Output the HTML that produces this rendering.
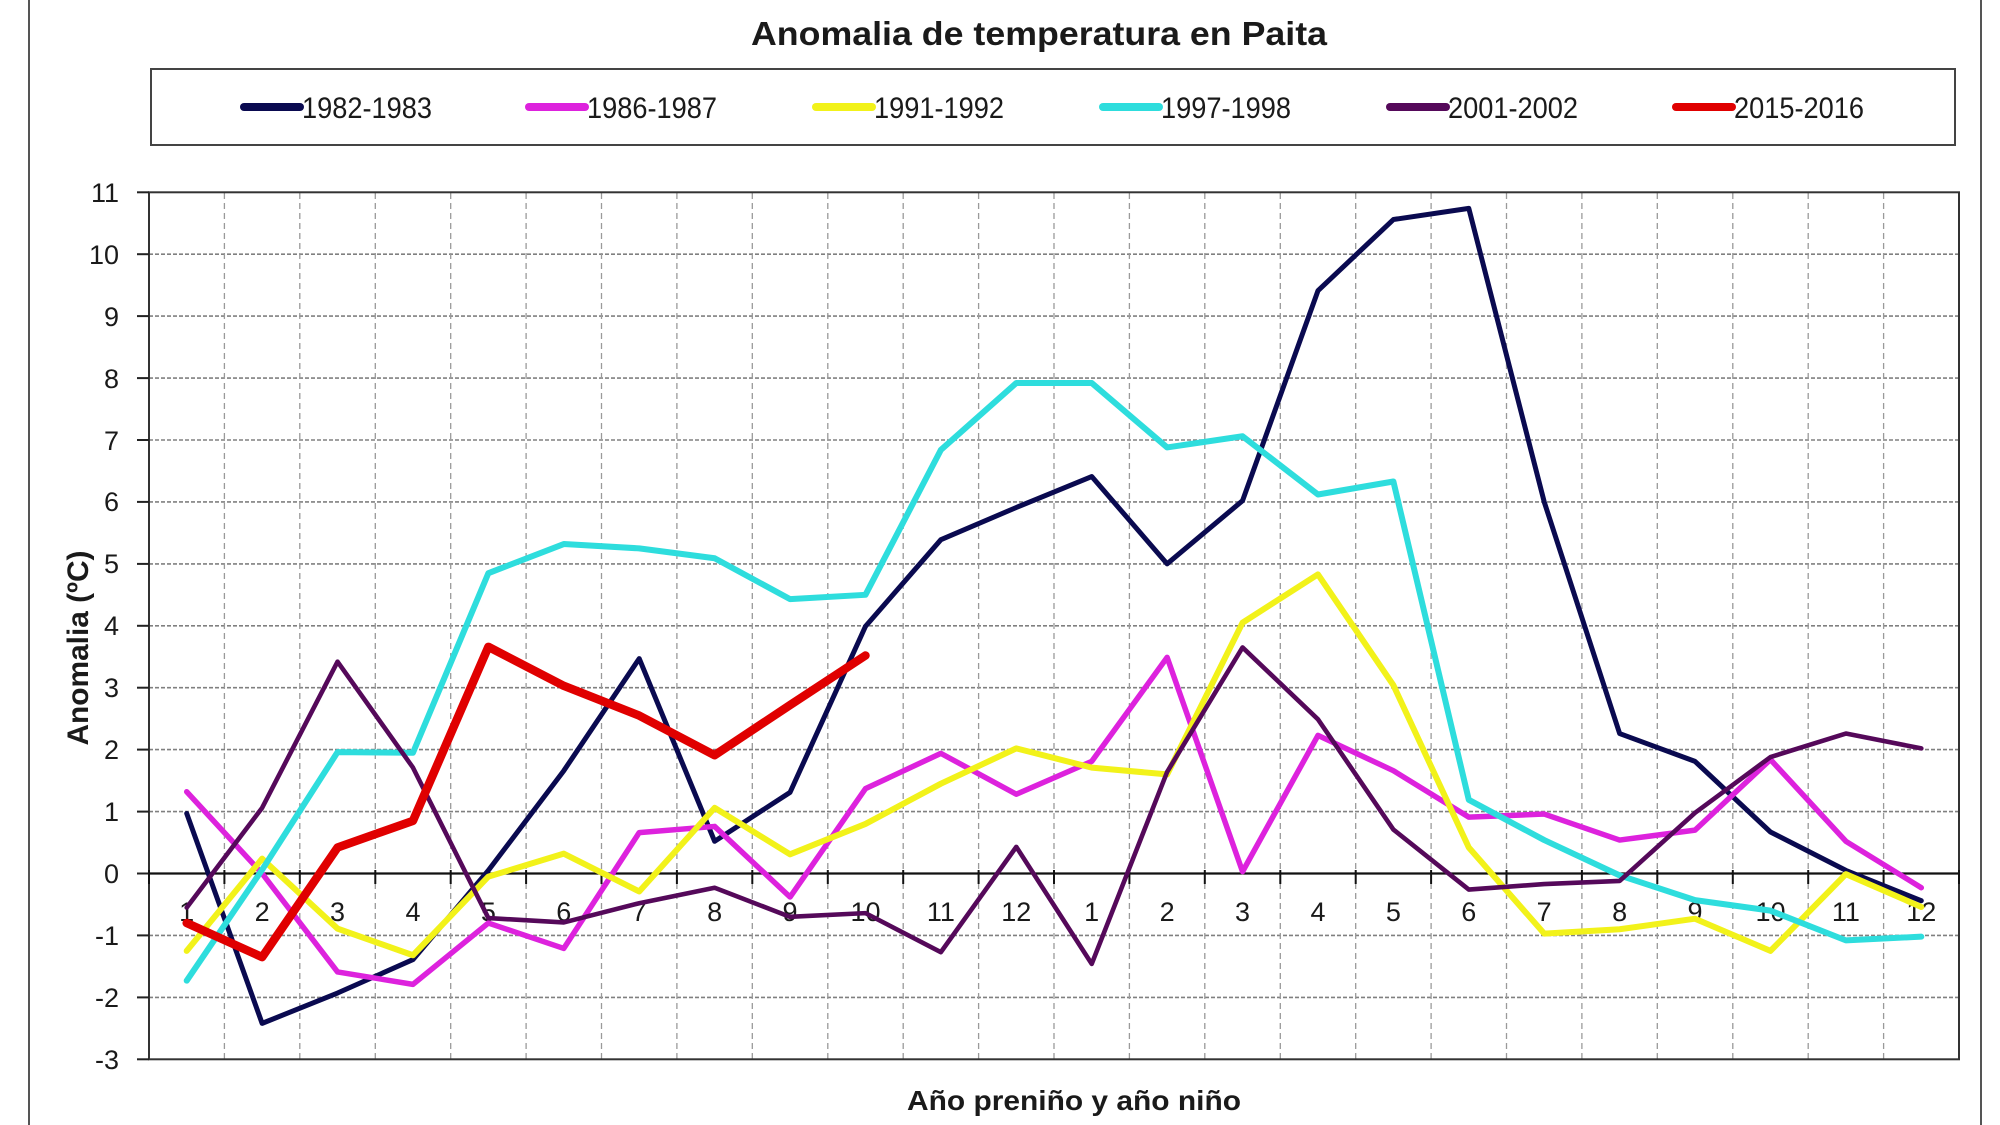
<!DOCTYPE html>
<html>
<head>
<meta charset="utf-8">
<style>
html,body{margin:0;padding:0;background:#fff;}
svg{display:block;}
text{font-family:"Liberation Sans",Arial,sans-serif;fill:#1a1a1a;}
</style>
</head>
<body>
<svg width="2000" height="1125" viewBox="0 0 2000 1125" xmlns="http://www.w3.org/2000/svg">
<rect x="0" y="0" width="2000" height="1125" fill="#fff"/>
<line x1="29" y1="0" x2="29" y2="1125" stroke="#555" stroke-width="2"/>
<line x1="1981" y1="0" x2="1981" y2="1125" stroke="#555" stroke-width="2"/>

<text x="1039" y="45" font-size="33" font-weight="bold" text-anchor="middle" textLength="576" lengthAdjust="spacingAndGlyphs">Anomalia de temperatura en Paita</text>

<rect x="151" y="69" width="1804" height="76" fill="#fff" stroke="#444" stroke-width="2"/>
<g stroke-width="8" stroke-linecap="round">
<line x1="244" y1="107" x2="300" y2="107" stroke="#0a0a50"/>
<line x1="529" y1="107" x2="585" y2="107" stroke="#dd22dd"/>
<line x1="816" y1="107" x2="872" y2="107" stroke="#f2f21a"/>
<line x1="1103" y1="107" x2="1159" y2="107" stroke="#2edddd"/>
<line x1="1390" y1="107" x2="1446" y2="107" stroke="#55095a"/>
<line x1="1676" y1="107" x2="1732" y2="107" stroke="#e00000"/>
</g>
<g font-size="30">
<text x="302" y="118" textLength="130" lengthAdjust="spacingAndGlyphs">1982-1983</text>
<text x="587" y="118" textLength="130" lengthAdjust="spacingAndGlyphs">1986-1987</text>
<text x="874" y="118" textLength="130" lengthAdjust="spacingAndGlyphs">1991-1992</text>
<text x="1161" y="118" textLength="130" lengthAdjust="spacingAndGlyphs">1997-1998</text>
<text x="1448" y="118" textLength="130" lengthAdjust="spacingAndGlyphs">2001-2002</text>
<text x="1734" y="118" textLength="130" lengthAdjust="spacingAndGlyphs">2015-2016</text>
</g>

<g stroke="#808080" stroke-width="1.6" stroke-dasharray="4 2">
<line x1="149" y1="254.2" x2="1959" y2="254.2"/>
<line x1="149" y1="316.1" x2="1959" y2="316.1"/>
<line x1="149" y1="378.1" x2="1959" y2="378.1"/>
<line x1="149" y1="440.0" x2="1959" y2="440.0"/>
<line x1="149" y1="501.9" x2="1959" y2="501.9"/>
<line x1="149" y1="563.9" x2="1959" y2="563.9"/>
<line x1="149" y1="625.8" x2="1959" y2="625.8"/>
<line x1="149" y1="687.7" x2="1959" y2="687.7"/>
<line x1="149" y1="749.6" x2="1959" y2="749.6"/>
<line x1="149" y1="811.6" x2="1959" y2="811.6"/>
<line x1="149" y1="935.4" x2="1959" y2="935.4"/>
<line x1="149" y1="997.4" x2="1959" y2="997.4"/>
</g>
<g stroke="#9a9a9a" stroke-width="1.3" stroke-dasharray="6 4">
<line x1="224.4" y1="193" x2="224.4" y2="1059"/>
<line x1="299.8" y1="193" x2="299.8" y2="1059"/>
<line x1="375.3" y1="193" x2="375.3" y2="1059"/>
<line x1="450.7" y1="193" x2="450.7" y2="1059"/>
<line x1="526.1" y1="193" x2="526.1" y2="1059"/>
<line x1="601.5" y1="193" x2="601.5" y2="1059"/>
<line x1="676.9" y1="193" x2="676.9" y2="1059"/>
<line x1="752.3" y1="193" x2="752.3" y2="1059"/>
<line x1="827.8" y1="193" x2="827.8" y2="1059"/>
<line x1="903.2" y1="193" x2="903.2" y2="1059"/>
<line x1="978.6" y1="193" x2="978.6" y2="1059"/>
<line x1="1054.0" y1="193" x2="1054.0" y2="1059"/>
<line x1="1129.4" y1="193" x2="1129.4" y2="1059"/>
<line x1="1204.8" y1="193" x2="1204.8" y2="1059"/>
<line x1="1280.3" y1="193" x2="1280.3" y2="1059"/>
<line x1="1355.7" y1="193" x2="1355.7" y2="1059"/>
<line x1="1431.1" y1="193" x2="1431.1" y2="1059"/>
<line x1="1506.5" y1="193" x2="1506.5" y2="1059"/>
<line x1="1581.9" y1="193" x2="1581.9" y2="1059"/>
<line x1="1657.3" y1="193" x2="1657.3" y2="1059"/>
<line x1="1732.8" y1="193" x2="1732.8" y2="1059"/>
<line x1="1808.2" y1="193" x2="1808.2" y2="1059"/>
<line x1="1883.6" y1="193" x2="1883.6" y2="1059"/>
</g>

<rect x="149" y="192.3" width="1810" height="867" fill="none" stroke="#333" stroke-width="2"/>

<g stroke="#222" stroke-width="2">
<line x1="137" y1="192.3" x2="149" y2="192.3"/>
<line x1="137" y1="254.2" x2="149" y2="254.2"/>
<line x1="137" y1="316.1" x2="149" y2="316.1"/>
<line x1="137" y1="378.1" x2="149" y2="378.1"/>
<line x1="137" y1="440.0" x2="149" y2="440.0"/>
<line x1="137" y1="501.9" x2="149" y2="501.9"/>
<line x1="137" y1="563.9" x2="149" y2="563.9"/>
<line x1="137" y1="625.8" x2="149" y2="625.8"/>
<line x1="137" y1="687.7" x2="149" y2="687.7"/>
<line x1="137" y1="749.6" x2="149" y2="749.6"/>
<line x1="137" y1="811.6" x2="149" y2="811.6"/>
<line x1="137" y1="873.5" x2="149" y2="873.5"/>
<line x1="137" y1="935.4" x2="149" y2="935.4"/>
<line x1="137" y1="997.4" x2="149" y2="997.4"/>
<line x1="137" y1="1059.3" x2="149" y2="1059.3"/>
</g>
<g font-size="27" text-anchor="end">
<text x="119" y="202">11</text>
<text x="119" y="264">10</text>
<text x="119" y="326">9</text>
<text x="119" y="388">8</text>
<text x="119" y="450">7</text>
<text x="119" y="511">6</text>
<text x="119" y="573">5</text>
<text x="119" y="635">4</text>
<text x="119" y="697">3</text>
<text x="119" y="759">2</text>
<text x="119" y="821">1</text>
<text x="119" y="883">0</text>
<text x="119" y="945">-1</text>
<text x="119" y="1007">-2</text>
<text x="119" y="1069">-3</text>
</g>

<line x1="149" y1="873.5" x2="1959" y2="873.5" stroke="#111" stroke-width="2.2"/>
<g stroke="#111" stroke-width="2">
<line x1="149" y1="870" x2="149" y2="884"/>
<line x1="224.4" y1="870" x2="224.4" y2="884"/>
<line x1="299.8" y1="870" x2="299.8" y2="884"/>
<line x1="375.3" y1="870" x2="375.3" y2="884"/>
<line x1="450.7" y1="870" x2="450.7" y2="884"/>
<line x1="526.1" y1="870" x2="526.1" y2="884"/>
<line x1="601.5" y1="870" x2="601.5" y2="884"/>
<line x1="676.9" y1="870" x2="676.9" y2="884"/>
<line x1="752.3" y1="870" x2="752.3" y2="884"/>
<line x1="827.8" y1="870" x2="827.8" y2="884"/>
<line x1="903.2" y1="870" x2="903.2" y2="884"/>
<line x1="978.6" y1="870" x2="978.6" y2="884"/>
<line x1="1054.0" y1="870" x2="1054.0" y2="884"/>
<line x1="1129.4" y1="870" x2="1129.4" y2="884"/>
<line x1="1204.8" y1="870" x2="1204.8" y2="884"/>
<line x1="1280.3" y1="870" x2="1280.3" y2="884"/>
<line x1="1355.7" y1="870" x2="1355.7" y2="884"/>
<line x1="1431.1" y1="870" x2="1431.1" y2="884"/>
<line x1="1506.5" y1="870" x2="1506.5" y2="884"/>
<line x1="1581.9" y1="870" x2="1581.9" y2="884"/>
<line x1="1657.3" y1="870" x2="1657.3" y2="884"/>
<line x1="1732.8" y1="870" x2="1732.8" y2="884"/>
<line x1="1808.2" y1="870" x2="1808.2" y2="884"/>
<line x1="1883.6" y1="870" x2="1883.6" y2="884"/>
<line x1="1959" y1="870" x2="1959" y2="884"/>
</g>

<g font-size="27" text-anchor="middle">
<text x="186.7" y="921">1</text>
<text x="262.1" y="921">2</text>
<text x="337.5" y="921">3</text>
<text x="413.0" y="921">4</text>
<text x="488.4" y="921">5</text>
<text x="563.8" y="921">6</text>
<text x="639.2" y="921">7</text>
<text x="714.6" y="921">8</text>
<text x="790.0" y="921">9</text>
<text x="865.5" y="921">10</text>
<text x="940.9" y="921">11</text>
<text x="1016.3" y="921">12</text>
<text x="1091.7" y="921">1</text>
<text x="1167.1" y="921">2</text>
<text x="1242.5" y="921">3</text>
<text x="1318.0" y="921">4</text>
<text x="1393.4" y="921">5</text>
<text x="1468.8" y="921">6</text>
<text x="1544.2" y="921">7</text>
<text x="1619.6" y="921">8</text>
<text x="1695.0" y="921">9</text>
<text x="1770.5" y="921">10</text>
<text x="1845.9" y="921">11</text>
<text x="1921.3" y="921">12</text>
</g>

<g transform="translate(149,873.5) scale(75.417,-61.93)" fill="none" stroke-linejoin="round" stroke-linecap="round">
<polyline vector-effect="non-scaling-stroke" stroke="#0a0a50" stroke-width="5" points="0.5,0.97 1.5,-2.42 2.5,-1.93 3.5,-1.39 4.5,0.05 5.5,1.66 6.5,3.47 7.5,0.52 8.5,1.31 9.5,3.99 10.5,5.39 11.5,5.91 12.5,6.41 13.5,5.0 14.5,6.02 15.5,9.41 16.5,10.56 17.5,10.74 18.5,6.0 19.5,2.26 20.5,1.81 21.5,0.67 22.5,0.05 23.5,-0.44"/>
<polyline vector-effect="non-scaling-stroke" stroke="#dd22dd" stroke-width="5.5" points="0.5,1.32 1.5,0.0 2.5,-1.59 3.5,-1.79 4.5,-0.8 5.5,-1.21 6.5,0.66 7.5,0.76 8.5,-0.38 9.5,1.37 10.5,1.94 11.5,1.28 12.5,1.81 13.5,3.49 14.5,0.03 15.5,2.23 16.5,1.66 17.5,0.91 18.5,0.96 19.5,0.54 20.5,0.7 21.5,1.84 22.5,0.52 23.5,-0.23"/>
<polyline vector-effect="non-scaling-stroke" stroke="#f2f21a" stroke-width="6" points="0.5,-1.25 1.5,0.24 2.5,-0.89 3.5,-1.32 4.5,-0.05 5.5,0.32 6.5,-0.29 7.5,1.06 8.5,0.31 9.5,0.8 10.5,1.45 11.5,2.02 12.5,1.71 13.5,1.6 14.5,4.05 15.5,4.83 16.5,3.04 17.5,0.42 18.5,-0.97 19.5,-0.9 20.5,-0.73 21.5,-1.25 22.5,-0.01 23.5,-0.54"/>
<polyline vector-effect="non-scaling-stroke" stroke="#2edddd" stroke-width="6" points="0.5,-1.73 1.5,0.06 2.5,1.96 3.5,1.95 4.5,4.85 5.5,5.32 6.5,5.25 7.5,5.09 8.5,4.43 9.5,4.5 10.5,6.84 11.5,7.92 12.5,7.92 13.5,6.88 14.5,7.06 15.5,6.12 16.5,6.33 17.5,1.19 18.5,0.54 19.5,-0.03 20.5,-0.43 21.5,-0.6 22.5,-1.08 23.5,-1.02"/>
<polyline vector-effect="non-scaling-stroke" stroke="#55095a" stroke-width="4.6" points="0.5,-0.55 1.5,1.06 2.5,3.42 3.5,1.71 4.5,-0.72 5.5,-0.79 6.5,-0.48 7.5,-0.23 8.5,-0.7 9.5,-0.64 10.5,-1.27 11.5,0.43 12.5,-1.46 13.5,1.64 14.5,3.65 15.5,2.49 16.5,0.71 17.5,-0.26 18.5,-0.17 19.5,-0.12 20.5,0.98 21.5,1.88 22.5,2.26 23.5,2.02"/>
<polyline vector-effect="non-scaling-stroke" stroke="#e00000" stroke-width="8.5" points="0.5,-0.8 1.5,-1.35 2.5,0.42 3.5,0.85 4.5,3.66 5.5,3.03 6.5,2.55 7.5,1.91 8.5,2.72 9.5,3.52"/>
</g>

<text transform="translate(88,648) rotate(-90)" font-size="30" font-weight="bold" text-anchor="middle" textLength="195" lengthAdjust="spacingAndGlyphs">Anomalia (ºC)</text>
<text x="1074" y="1110" font-size="28" font-weight="bold" text-anchor="middle" textLength="334" lengthAdjust="spacingAndGlyphs">Año preniño y año niño</text>
</svg>
</body>
</html>
